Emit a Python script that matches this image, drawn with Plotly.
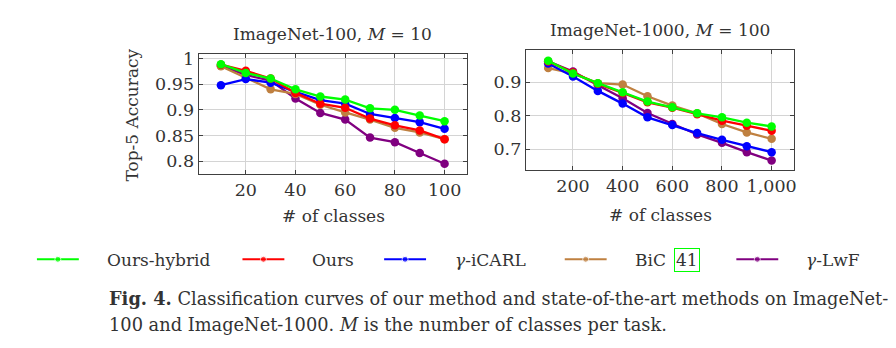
import plotly.graph_objects as go

# ---------------- data ----------------
series_names = ["Ours-hybrid", "Ours", "<i>γ</i>-iCARL", "BiC", "<i>γ</i>-LwF"]
series_colors = ["#00ff00", "#ff0000", "#0000ff", "#bf8040", "#800080"]

x_100 = [10, 20, 30, 40, 50, 60, 70, 80, 90, 100]
hybrid_100 = [0.989, 0.972, 0.961, 0.940, 0.926, 0.920, 0.903, 0.900, 0.889, 0.878]
ours_100 = [0.988, 0.976, 0.961, 0.933, 0.912, 0.904, 0.883, 0.870, 0.860, 0.843]
icarl_100 = [0.948, 0.960, 0.953, 0.935, 0.919, 0.912, 0.892, 0.884, 0.876, 0.863]
bic_100 = [0.985, 0.962, 0.940, 0.931, 0.910, 0.895, 0.881, 0.865, 0.856, 0.843]
lwf_100 = [0.986, 0.968, 0.957, 0.922, 0.894, 0.881, 0.846, 0.837, 0.816, 0.795]

x_1000 = [100, 200, 300, 400, 500, 600, 700, 800, 900, 1000]
hybrid_1000 = [0.964, 0.926, 0.897, 0.870, 0.842, 0.825, 0.807, 0.795, 0.779, 0.768]
ours_1000 = [0.962, 0.929, 0.895, 0.868, 0.840, 0.824, 0.804, 0.785, 0.770, 0.755]
icarl_1000 = [0.956, 0.917, 0.874, 0.836, 0.795, 0.772, 0.748, 0.728, 0.709, 0.691]
bic_1000 = [0.942, 0.926, 0.897, 0.893, 0.858, 0.830, 0.807, 0.775, 0.750, 0.731]
lwf_1000 = [0.962, 0.932, 0.891, 0.852, 0.808, 0.775, 0.744, 0.719, 0.691, 0.666]

left_ytick_vals = [0.8, 0.85, 0.9, 0.95, 1.0]
left_ytick_text = ["0.8", "0.85", "0.9", "0.95", "1"]
left_xtick_vals = [20, 40, 60, 80, 100]
right_ytick_vals = [0.7, 0.8, 0.9]
right_xtick_vals = [200, 400, 600, 800, 1000]
right_xtick_text = ["200", "400", "600", "800", "1,000"]

left_series = [hybrid_100, ours_100, icarl_100, bic_100, lwf_100]
right_series = [hybrid_1000, ours_1000, icarl_1000, bic_1000, lwf_1000]

# ---------------- figure ----------------
W, H = 896, 348
FONT = "DejaVu Serif, serif"
TXT = "#333333"


def px(x):
    return x / W


def py(y):
    return 1 - y / H


fig = go.Figure()
draw_order = [4, 3, 2, 1, 0]
for i in draw_order:
    fig.add_trace(go.Scatter(x=x_100, y=left_series[i], mode="lines+markers",
                             line=dict(color=series_colors[i], width=2.3),
                             marker=dict(color=series_colors[i], size=8.5),
                             xaxis="x", yaxis="y", showlegend=False, name=series_names[i]))
for i in draw_order:
    fig.add_trace(go.Scatter(x=x_1000, y=right_series[i], mode="lines+markers",
                             line=dict(color=series_colors[i], width=2.3),
                             marker=dict(color=series_colors[i], size=8.5),
                             xaxis="x2", yaxis="y2", showlegend=False, name=series_names[i]))

# legend samples on a helper axis measured in pixels
legend_line_x = [37, 243, 385, 566, 738]
legend_text_x = [105, 311, 454, 634, 806]
legend_labels = ["Ours-hybrid", "Ours", "<i>γ</i>-iCARL", "BiC ", "<i>γ</i>-LwF"]
for i in range(5):
    x0 = legend_line_x[i]
    fig.add_trace(go.Scatter(x=[x0, x0 + 21, x0 + 42], y=[0, 0, 0], mode="lines+markers",
                             line=dict(color=series_colors[i], width=2),
                             marker=dict(color=series_colors[i], size=[0, 6, 0]),
                             xaxis="x3", yaxis="y3", showlegend=False, hoverinfo="skip"))

axis_common = dict(showline=True, linecolor="#404040", linewidth=1, mirror="ticks",
                   showgrid=True, gridcolor="#d4d4d4", gridwidth=1,
                   ticks="inside", ticklen=4, tickcolor="#404040", zeroline=False,
                   tickfont=dict(family=FONT, size=17.5, color=TXT))

fig.update_layout(
    width=W, height=H, margin=dict(l=0, r=0, t=0, b=0),
    paper_bgcolor="white", plot_bgcolor="white", showlegend=False,
    xaxis=dict(domain=[px(199), px(468)], range=[1, 109], tickvals=left_xtick_vals,
               anchor="y", **axis_common),
    yaxis=dict(domain=[py(171), py(49.7)], range=[0.776, 1.0088], tickvals=left_ytick_vals,
               ticktext=left_ytick_text, anchor="x", **axis_common),
    xaxis2=dict(domain=[px(527), px(796)], range=[10, 1091], tickvals=right_xtick_vals,
                ticktext=right_xtick_text, anchor="y2", **axis_common),
    yaxis2=dict(domain=[py(167.7), py(46)], range=[0.637, 0.995], tickvals=right_ytick_vals,
                anchor="x2", **axis_common),
    xaxis3=dict(domain=[0, 1], range=[0, W], visible=False, anchor="y3"),
    yaxis3=dict(domain=[py(268), py(248)], range=[-1, 1], visible=False, anchor="x3"),
)

ann = []


def text(x, y, s, size=18, xanchor="center", **kw):
    ann.append(dict(x=px(x), y=py(y), xref="paper", yref="paper", text=s, showarrow=False,
                    xanchor=xanchor, yanchor="middle",
                    font=dict(family=FONT, size=size, color=TXT), **kw))


text(333.5, 29, "ImageNet-100, <i>M</i> = 10", size=17)
text(661.5, 25, "ImageNet-1000, <i>M</i> = 100", size=17)
text(334, 214, "# of classes", size=17)
text(662, 213, "# of classes", size=17)
text(132, 111.5, "Top-5 Accuracy", size=17, textangle=-90)

for i in range(5):
    text(legend_text_x[i], 258.5, legend_labels[i], size=17, xanchor="left")
# citation box
ann.append(dict(x=px(676), y=py(258.5), xref="paper", yref="paper", text="41", showarrow=False,
                xanchor="left", yanchor="middle", bordercolor="#00ff00", borderwidth=1, borderpad=1,
                font=dict(family=FONT, size=17, color=TXT)))

text(107, 298, "<b>Fig. 4.</b> Classification curves of our method and state-of-the-art methods on ImageNet-",
     size=17.8, xanchor="left")
text(107, 324, "100 and ImageNet-1000. <i>M</i> is the number of classes per task.",
     size=17.8, xanchor="left")

fig.update_layout(annotations=ann)
fig.write_html("out.html")
